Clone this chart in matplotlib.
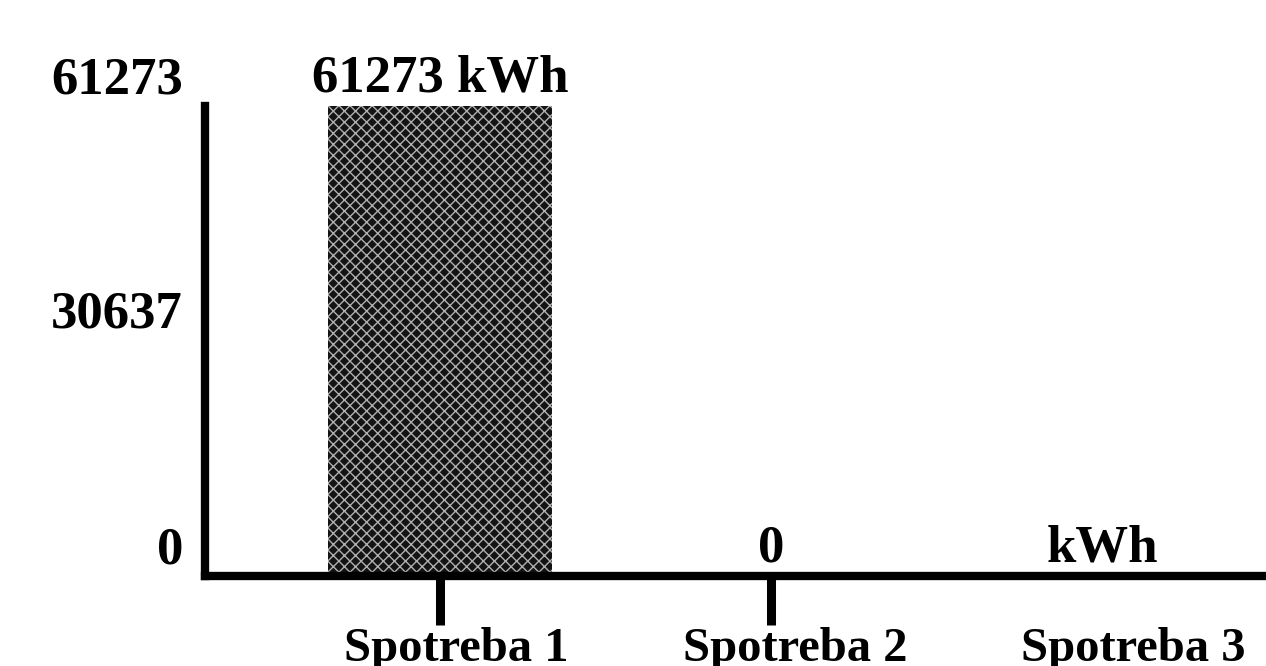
import matplotlib
matplotlib.use("Agg")
import matplotlib.pyplot as plt
from matplotlib.transforms import blended_transform_factory, offset_copy, ScaledTranslation

categories = ["Spotreba 1", "Spotreba 2", "Spotreba 3"]
values = [61273, 0, 0]
value_labels = ["61273 kWh", "0", "kWh"]
ytick_values = [0, 30637, 61273]
ytick_labels = ["0", "30637", "61273"]

plt.rcParams['font.family'] = ['Liberation Serif', 'DejaVu Serif']
plt.rcParams['font.weight'] = 'bold'
plt.rcParams['hatch.linewidth'] = 1.0

fig = plt.figure(figsize=(12.66, 6.66), dpi=100)
ax = fig.add_axes([205 / 1266, 90 / 666, 1 - 205 / 1266, 470 / 666])

x = list(range(len(categories)))
ax.bar(x, values, width=0.674, color='#141414', hatch='xxx', edgecolor='#b0b0b0', linewidth=0)

ax.set_xlim(-0.710, 2.495)
ax.set_ylim(0, 61273)

for s in ['top', 'right']:
    ax.spines[s].set_visible(False)
for s in ['left', 'bottom']:
    ax.spines[s].set_linewidth(6)
    ax.spines[s].set_color('black')
    ax.spines[s].set_capstyle('projecting')

ax.set_xticks(x)
ax.set_xticklabels(categories, fontsize=35, fontweight='bold')
ax.tick_params(axis='x', direction='out', length=35, width=6.5, pad=2)
ax.xaxis.get_major_ticks()[2].tick1line.set_visible(False)
label_shift = [16, 24, 31]
for lab, dx in zip(ax.get_xticklabels(), label_shift):
    lab.set_transform(lab.get_transform() + ScaledTranslation(dx / 100, 0, fig.dpi_scale_trans))

ax.set_yticks([])
trans = blended_transform_factory(ax.transAxes, ax.transData)
for v, lab in zip(ytick_values, ytick_labels):
    t = offset_copy(trans, fig=fig, x=-22, y=13, units='dots')
    ax.text(0, v, lab, transform=t, ha='right', va='baseline', fontsize=38, fontweight='bold')

for xi, v, lab in zip(x, values, value_labels):
    t = offset_copy(ax.transData, fig=fig, x=0, y=14, units='dots')
    ax.text(xi, v, lab, transform=t, ha='center', va='baseline', fontsize=38, fontweight='bold')

fig.savefig("out.png", dpi=100, facecolor='white')
